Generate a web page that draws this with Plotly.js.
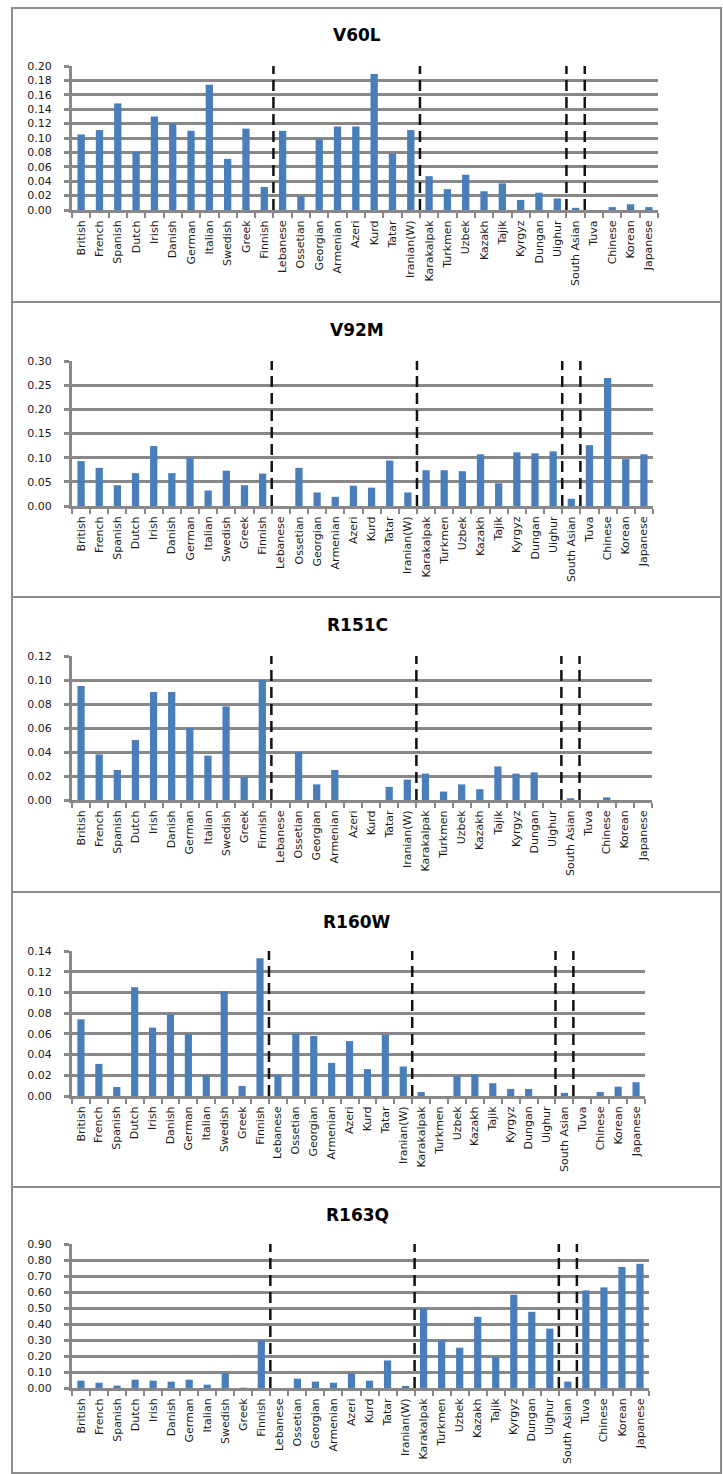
<!DOCTYPE html>
<html>
<head>
<meta charset="utf-8">
<script src="https://cdn.plot.ly/plotly-3.0.1.min.js"></script>
<style>
  html, body { margin: 0; padding: 0; background: #ffffff; }
  #chart { width: 723px; height: 1474px; }
</style>
</head>
<body>
<div id="chart"></div>
<script>
// ---------- data ----------
const categories = ['British','French','Spanish','Dutch','Irish','Danish','German','Italian','Swedish','Greek','Finnish',
  'Lebanese','Ossetian','Georgian','Armenian','Azeri','Kurd','Tatar','Iranian(W)',
  'Karakalpak','Turkmen','Uzbek','Kazakh','Tajik','Kyrgyz','Dungan','Uighur',
  'South Asian','Tuva','Chinese','Korean','Japanese'];

const v60l = [0.105,0.111,0.148,0.081,0.130,0.120,0.110,0.174,0.071,0.113,0.032,
  0.110,0.019,0.098,0.116,0.116,0.189,0.078,0.111,
  0.047,0.029,0.049,0.026,0.037,0.014,0.024,0.016,
  0.003,0.000,0.004,0.008,0.004];

const v92m = [0.093,0.079,0.043,0.068,0.124,0.068,0.100,0.032,0.073,0.043,0.067,
  0.000,0.079,0.028,0.019,0.042,0.038,0.094,0.028,
  0.074,0.074,0.072,0.107,0.047,0.111,0.109,0.113,
  0.015,0.126,0.265,0.097,0.107];

const r151c = [0.095,0.038,0.025,0.050,0.090,0.090,0.060,0.037,0.078,0.019,0.100,
  0.000,0.040,0.013,0.025,0.000,0.000,0.011,0.017,
  0.022,0.007,0.013,0.009,0.028,0.022,0.023,0.000,
  0.0014,0.000,0.0022,0.000,0.000];

const r160w = [0.074,0.031,0.0087,0.105,0.066,0.079,0.060,0.020,0.101,0.0097,0.133,
  0.020,0.060,0.058,0.032,0.053,0.026,0.059,0.0285,
  0.0039,0.000,0.019,0.0207,0.0123,0.0068,0.0068,0.000,
  0.003,0.000,0.0039,0.009,0.0133];

const r163q = [0.046,0.033,0.015,0.052,0.046,0.040,0.052,0.021,0.092,0.002,0.298,
  0.000,0.058,0.040,0.033,0.092,0.046,0.172,0.013,
  0.497,0.298,0.252,0.445,0.193,0.583,0.476,0.371,
  0.040,0.610,0.629,0.757,0.776];

const seriesValues = [v60l, v92m, r151c, r160w, r163q];
const panelTitles = ['V60L','V92M','R151C','R160W','R163Q'];
const yMax = [0.20, 0.30, 0.12, 0.14, 0.90];
const yStep = [0.02, 0.05, 0.02, 0.02, 0.10];
// dashed separators are drawn right after these categories
const dividerAfter = ['Finnish','Iranian(W)','Uighur','South Asian'];

// ---------- layout geometry (pixels) ----------
const W = 723, H = 1474;
const panelPlot = [ // [left, right, top, bottom]
  [72, 658, 66, 210],
  [72, 653, 361, 506],
  [72, 652, 656, 800],
  [72, 645, 951, 1096],
  [72, 649, 1244, 1388]
];
const titleY = [35, 330, 625, 922, 1215];
const titleX = 357;
const separators = [302, 597, 892, 1187];
const frame = {x0: 12, x1: 721, y0: 8, y1: 1473};

const GRID = '#888888';
const BAR = '#4a7ebb';
const FONT = 'DejaVu Sans';

const px = v => v / W;
const py = v => 1 - v / H;

const traces = [];
const layout = {
  width: W, height: H,
  margin: {l: 0, r: 0, t: 0, b: 0},
  paper_bgcolor: '#ffffff',
  plot_bgcolor: '#ffffff',
  showlegend: false,
  bargap: 0.6,
  font: {family: FONT, size: 11, color: '#1a1a1a'},
  shapes: [],
  annotations: []
};

seriesValues.forEach((vals, i) => {
  const n = i === 0 ? '' : String(i + 1);
  const [l, r, t, b] = panelPlot[i];
  traces.push({
    type: 'bar',
    x: categories,
    y: vals,
    xaxis: 'x' + n,
    yaxis: 'y' + n,
    marker: {color: BAR, line: {width: 0}},
    hoverinfo: 'x+y'
  });
  layout['xaxis' + n] = {
    domain: [px(l), px(r)],
    anchor: 'y' + n,
    type: 'category',
    categoryorder: 'array',
    categoryarray: categories,
    tickangle: -90,
    tickfont: {family: FONT, size: 11, color: '#1a1a1a'},
    showline: true, linecolor: GRID, linewidth: 3,
    ticks: 'outside', tickson: 'boundaries', ticklen: 5, tickwidth: 2, tickcolor: GRID,
    ticklabelstandoff: 3,
    showgrid: false, zeroline: false,
    fixedrange: true
  };
  layout['yaxis' + n] = {
    domain: [py(b), py(t)],
    anchor: 'x' + n,
    range: [0, yMax[i]],
    dtick: yStep[i], tick0: 0,
    tickformat: '.2f',
    tickfont: {family: FONT, size: 11, color: '#1a1a1a'},
    showline: true, linecolor: GRID, linewidth: 3,
    ticks: 'outside', ticklen: 5, tickwidth: 3, tickcolor: GRID,
    ticklabelstandoff: 10,
    showgrid: true, gridcolor: GRID, gridwidth: 3,
    zeroline: false,
    fixedrange: true
  };
  // dashed group separators
  dividerAfter.forEach(name => {
    const pos = categories.indexOf(name) + 0.5;
    layout.shapes.push({
      type: 'line', xref: 'x' + n, yref: 'y' + n + ' domain',
      x0: pos, x1: pos, y0: 0, y1: 1,
      line: {color: '#111111', width: 2.5, dash: '11px,6px'},
      layer: 'above'
    });
  });
  layout.annotations.push({
    xref: 'paper', yref: 'paper',
    x: px(titleX), y: py(titleY[i]),
    xanchor: 'center', yanchor: 'middle',
    text: '<b>' + panelTitles[i] + '</b>',
    showarrow: false,
    font: {family: FONT, size: 17, color: '#000000'}
  });
});

// outer frame and panel separators
layout.shapes.push({
  type: 'rect', xref: 'paper', yref: 'paper',
  x0: px(frame.x0), x1: px(frame.x1), y0: py(frame.y1), y1: py(frame.y0),
  line: {color: '#8c8c8c', width: 2}, fillcolor: 'rgba(0,0,0,0)', layer: 'below'
});
separators.forEach(yv => {
  layout.shapes.push({
    type: 'line', xref: 'paper', yref: 'paper',
    x0: px(frame.x0), x1: px(frame.x1), y0: py(yv), y1: py(yv),
    line: {color: '#8c8c8c', width: 2}, layer: 'below'
  });
});

Plotly.newPlot('chart', traces, layout, {displayModeBar: false, staticPlot: true});
</script>
</body>
</html>
